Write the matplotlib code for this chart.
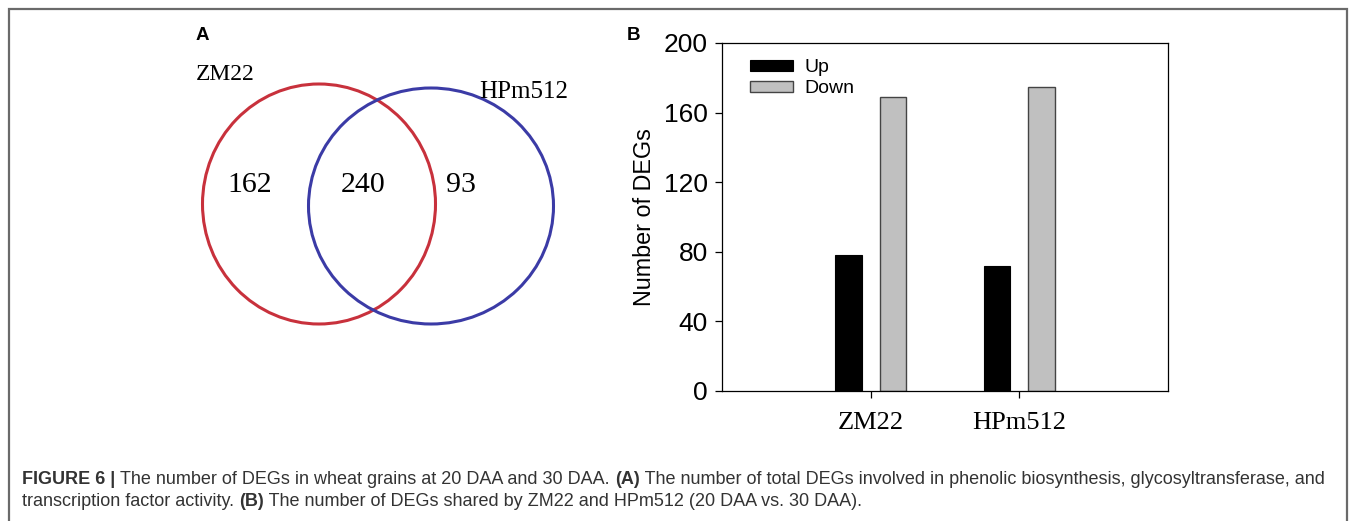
import matplotlib
matplotlib.use("Agg")
import matplotlib.pyplot as plt
from matplotlib.patches import Ellipse
import numpy as np

# data
genotypes = ["ZM22", "HPm512"]
up_degs = [78, 72]
down_degs = [169, 175]
venn_counts = [162, 240, 93]   # ZM22 only, shared, HPm512 only
y_ticks = [0, 40, 80, 120, 160, 200]

caption_line1 = [
    ("FIGURE 6 | ", "bold"),
    ("The number of DEGs in wheat grains at 20 DAA and 30 DAA. ", "normal"),
    ("(A)", "bold"),
    (" The number of total DEGs involved in phenolic biosynthesis, glycosyltransferase, and", "normal"),
]
caption_line2 = [
    ("transcription factor activity. ", "normal"),
    ("(B)", "bold"),
    (" The number of DEGs shared by ZM22 and HPm512 (20 DAA vs. 30 DAA).", "normal"),
]

W, H = 1357, 521
fig = plt.figure(figsize=(W / 100, H / 100), dpi=100)

# full-figure axes in pixel coords for venn, caption, frame
bg = fig.add_axes([0, 0, 1, 1])
bg.set_xlim(0, W)
bg.set_ylim(H, 0)
bg.axis("off")

# outer frame (no bottom edge visible)
bg.plot([9, 9, 1347, 1347], [H + 5, 9, 9, H + 5], color="#6a6a6a", lw=1.6,
        solid_joinstyle="miter")

# panel letters
bg.text(202, 35, "A", fontsize=13.5, fontweight="bold", family="Liberation Sans",
        ha="center", va="center")
bg.text(633, 35, "B", fontsize=13.5, fontweight="bold", family="Liberation Sans",
        ha="center", va="center")

# venn diagram
bg.add_patch(Ellipse((319, 204), 233, 240, fill=False, ec="#c8313c", lw=2.2))
bg.add_patch(Ellipse((431, 206), 245, 236, fill=False, ec="#3b3ba6", lw=2.2))
serif = "Liberation Serif"
bg.text(225, 74, genotypes[0], fontsize=17, family=serif, ha="center", va="center")
bg.text(524, 92, genotypes[1], fontsize=18, family=serif, ha="center", va="center")
for xpos, n in zip([250, 363, 461], venn_counts):
    bg.text(xpos, 185, str(n), fontsize=21.5, family=serif, ha="center", va="center")

# caption, drawn piece by piece so bold parts sit inline
renderer = fig.canvas.get_renderer()
cap_size = 13.0
for line, ypix in [(caption_line1, 479), (caption_line2, 501)]:
    xcur = 22
    for txt, wt in line:
        t = bg.text(xcur, ypix, txt, fontsize=cap_size, fontweight=wt,
                    family="Liberation Sans", color="#333333", ha="left", va="center")
        bb = t.get_window_extent(renderer=renderer)
        xcur += bb.width

# bar chart
ax = fig.add_axes([722 / W, 1 - 391 / H, 446 / W, 348 / H])
x = np.arange(1, len(genotypes) + 1)
bw = 0.18
ax.bar(x - 0.151, up_degs, bw, color="black", edgecolor="black", lw=0.8, label="Up")
ax.bar(x + 0.151, down_degs, bw, color="#c0c0c0", edgecolor="#444444", lw=1.0, label="Down")
ax.set_xlim(0, 3)
ax.set_ylim(0, 200)
ax.set_yticks(y_ticks)
ax.set_yticklabels([str(v) for v in y_ticks], fontsize=19, family="Liberation Sans")
ax.set_xticks(x)
ax.set_xticklabels(genotypes, fontsize=19, family=serif)
ax.tick_params(axis="y", direction="out", length=5, width=0.9, pad=5)
ax.tick_params(axis="x", direction="out", length=5, width=0.9, pad=10)
ax.set_ylabel("Number of DEGs", fontsize=16.8, family="Liberation Sans", labelpad=6)
for s in ax.spines.values():
    s.set_linewidth(0.9)
leg = ax.legend(loc="upper left", frameon=False,
                prop={"family": "Liberation Sans", "size": 14},
                handlelength=2.2, handleheight=0.55, handletextpad=0.6,
                labelspacing=0.2, borderaxespad=0.0, bbox_to_anchor=(0.045, 0.975))

fig.savefig("out.png", dpi=100)
